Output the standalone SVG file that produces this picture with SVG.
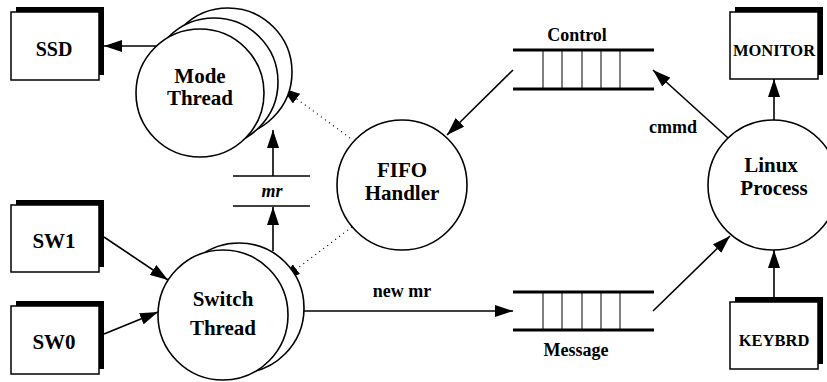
<svg xmlns="http://www.w3.org/2000/svg" width="827" height="382" viewBox="0 0 827 382">
  <style>
    .bg { fill: #ffffff; }
    .box { fill: #ffffff; stroke: #000000; stroke-width: 1.5; }
    .shadow { fill: #000000; }
    .proc { fill: #ffffff; stroke: #000000; stroke-width: 1.6; }
    .edge { fill: none; stroke: #000000; stroke-width: 1.6; }
    .dot { fill: none; stroke: #000000; stroke-width: 1.2; stroke-dasharray: 1 4; }
    .rail { stroke: #000000; stroke-width: 3; }
    .slot { stroke: #000000; stroke-width: 1; }
    text { font-family: "Liberation Serif", "Times New Roman", serif; font-weight: bold; fill: #000000; text-anchor: middle; }
    .big { font-size: 21px; }
    .dev { font-size: 20px; }
    .small { font-size: 16.5px; }
    .lbl { font-size: 18px; }
    .it { font-style: italic; }
  </style>
  <defs>
    <marker id="head" markerUnits="userSpaceOnUse" markerWidth="20" markerHeight="12" refX="18" refY="6" orient="auto">
      <path d="M0,0 L18,6 L0,12 z" fill="#000000"/>
    </marker>
  </defs>

  <rect class="bg" x="0" y="0" width="827" height="382"/>

  <!-- connectors -->
  <g id="connectors">
    <line class="edge" x1="157" y1="46" x2="104" y2="46" marker-end="url(#head)"/>
    <line class="edge" x1="273" y1="176" x2="273" y2="130" marker-end="url(#head)"/>
    <line class="edge" x1="273" y1="251" x2="273" y2="207" marker-end="url(#head)"/>
    <line class="dot" x1="350" y1="138" x2="282" y2="88" marker-end="url(#head)"/>
    <line class="dot" x1="352" y1="227" x2="282" y2="280" marker-end="url(#head)"/>
    <line class="edge" x1="104" y1="237" x2="168" y2="280" marker-end="url(#head)"/>
    <line class="edge" x1="104" y1="334" x2="158" y2="312" marker-end="url(#head)"/>
    <line class="edge" x1="304" y1="311" x2="513" y2="311" marker-end="url(#head)"/>
    <line class="edge" x1="513" y1="70" x2="447" y2="135" marker-end="url(#head)"/>
    <line class="edge" x1="728" y1="138" x2="653" y2="70" marker-end="url(#head)"/>
    <line class="edge" x1="653" y1="311" x2="730" y2="236" marker-end="url(#head)"/>
    <line class="edge" x1="774" y1="120" x2="774" y2="79" marker-end="url(#head)"/>
    <line class="edge" x1="774" y1="297" x2="774" y2="250" marker-end="url(#head)"/>
    <text class="lbl" x="402" y="297">new mr</text>
    <text class="lbl" x="673" y="133">cmmd</text>
  </g>

  <!-- external devices -->
  <g id="ssd">
    <rect class="shadow" x="16" y="7" width="88" height="68"/>
    <rect class="box" x="11" y="12" width="88" height="68"/>
    <text class="dev" x="54" y="56">SSD</text>
  </g>
  <g id="sw1">
    <rect class="shadow" x="16" y="200" width="88" height="67"/>
    <rect class="box" x="11" y="205" width="88" height="67"/>
    <text class="big" x="54" y="248">SW1</text>
  </g>
  <g id="sw0">
    <rect class="shadow" x="16" y="301" width="88" height="68"/>
    <rect class="box" x="11" y="306" width="88" height="68"/>
    <text class="big" x="54" y="349">SW0</text>
  </g>
  <g id="monitor">
    <rect class="shadow" x="735" y="7" width="88" height="68"/>
    <rect class="box" x="730" y="12" width="88" height="67"/>
    <text class="small" x="774" y="56">MONITOR</text>
  </g>
  <g id="keybrd">
    <rect class="shadow" x="735" y="297" width="88" height="67"/>
    <rect class="box" x="730" y="302" width="88" height="67"/>
    <text class="small" x="774" y="346">KEYBRD</text>
  </g>

  <!-- thread stacks -->
  <g id="mode-thread">
    <circle class="proc" cx="228" cy="72" r="64"/>
    <circle class="proc" cx="214" cy="82" r="64"/>
    <circle class="proc" cx="200" cy="93" r="64"/>
    <text class="big" x="200" y="83">Mode</text>
    <text class="big" x="200" y="105">Thread</text>
  </g>
  <g id="switch-thread">
    <circle class="proc" cx="239" cy="308" r="65"/>
    <circle class="proc" cx="223" cy="315" r="65"/>
    <text class="big" x="223" y="306">Switch</text>
    <text class="big" x="223" y="335">Thread</text>
  </g>

  <!-- shared variable mr -->
  <g id="mr">
    <line class="edge" x1="233" y1="176" x2="310" y2="176"/>
    <line class="edge" x1="233" y1="206" x2="310" y2="206"/>
    <text class="lbl it" x="272" y="197">mr</text>
  </g>

  <g id="fifo-handler">
    <circle class="proc" cx="402" cy="185" r="65"/>
    <text class="big" x="402" y="177">FIFO</text>
    <text class="big" x="402" y="200">Handler</text>
  </g>

  <g id="linux-process">
    <circle class="proc" cx="773" cy="185" r="65"/>
    <text class="big" x="771" y="172">Linux</text>
    <text class="big" x="774" y="195">Process</text>
  </g>

  <!-- FIFO queues -->
  <g id="control-queue">
    <line class="rail" x1="513" y1="50" x2="654" y2="50"/>
    <line class="rail" x1="513" y1="89" x2="654" y2="89"/>
    <line class="slot" x1="543" y1="50" x2="543" y2="89"/>
    <line class="slot" x1="562" y1="50" x2="562" y2="89"/>
    <line class="slot" x1="582" y1="50" x2="582" y2="89"/>
    <line class="slot" x1="601" y1="50" x2="601" y2="89"/>
    <line class="slot" x1="620" y1="50" x2="620" y2="89"/>
    <text class="lbl" x="577" y="41">Control</text>
  </g>
  <g id="message-queue">
    <line class="rail" x1="513" y1="292" x2="654" y2="292"/>
    <line class="rail" x1="513" y1="330" x2="654" y2="330"/>
    <line class="slot" x1="543" y1="292" x2="543" y2="330"/>
    <line class="slot" x1="562" y1="292" x2="562" y2="330"/>
    <line class="slot" x1="582" y1="292" x2="582" y2="330"/>
    <line class="slot" x1="601" y1="292" x2="601" y2="330"/>
    <line class="slot" x1="620" y1="292" x2="620" y2="330"/>
    <text class="lbl" x="576" y="356">Message</text>
  </g>
</svg>
